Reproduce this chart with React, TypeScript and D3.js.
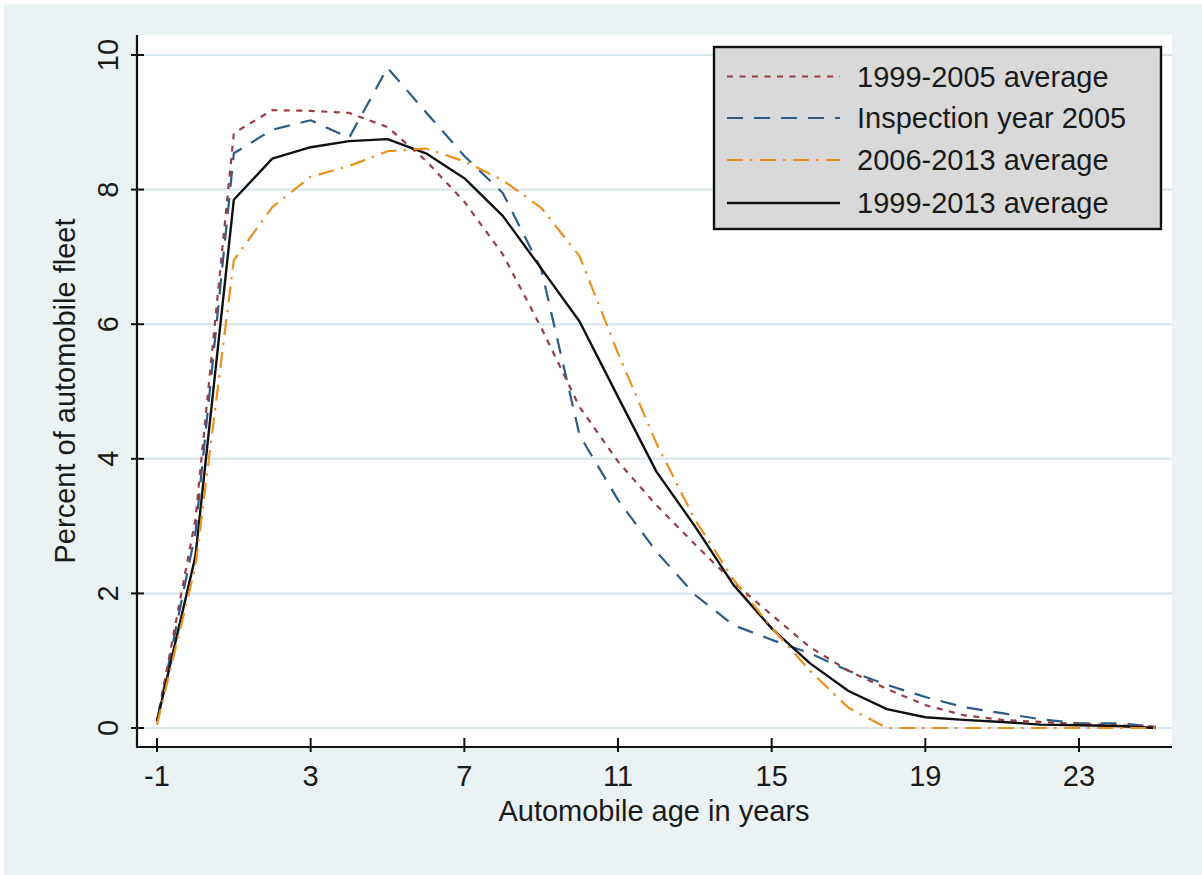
import React from 'react';
import * as d3 from 'd3';

// Automobile age (years)
const ages = [-1, 0, 1, 2, 3, 4, 5, 6, 7, 8, 9, 10, 11, 12, 13, 14, 15, 16, 17, 18, 19, 20, 21, 22, 23, 24, 25];

// Percent of automobile fleet
const avg1999to2005 = [0.1, 3.1, 8.84, 9.18, 9.17, 9.14, 8.93, 8.43, 7.82, 7.04, 5.95, 4.77, 3.96, 3.31, 2.73, 2.17, 1.68, 1.2, 0.85, 0.58, 0.34, 0.19, 0.12, 0.09, 0.06, 0.04, 0.02];
const inspection2005 = [0.1, 2.9, 8.54, 8.89, 9.03, 8.77, 9.81, 9.15, 8.5, 7.95, 6.82, 4.35, 3.39, 2.62, 1.98, 1.53, 1.31, 1.11, 0.85, 0.64, 0.46, 0.31, 0.22, 0.13, 0.07, 0.07, 0.02];
const avg2006to2013 = [0.05, 2.4, 6.95, 7.74, 8.19, 8.35, 8.57, 8.61, 8.42, 8.14, 7.73, 7.01, 5.57, 4.23, 3.1, 2.21, 1.49, 0.85, 0.3, 0, 0, 0, 0, 0, 0, 0, 0];
const avg1999to2013 = [0.1, 2.55, 7.85, 8.46, 8.63, 8.72, 8.75, 8.54, 8.17, 7.61, 6.83, 6.04, 4.92, 3.81, 3.0, 2.13, 1.48, 0.96, 0.55, 0.28, 0.16, 0.12, 0.09, 0.05, 0.04, 0.03, 0.0];

const xTickValues = [-1, 3, 7, 11, 15, 19, 23];
const yTickValues = [0, 2, 4, 6, 8, 10];

const legendLabels = ['1999-2005 average', 'Inspection year 2005', '2006-2013 average', '1999-2013 average'];

const FONT = '"Liberation Sans", Arial, Helvetica, sans-serif';

export default function App() {
  const W = 1202;
  const H = 875;
  const plot = { l: 137, r: 1172, t: 35, b: 747 };

  const x = d3.scaleLinear().domain([-1, 23]).range([157, 1079]);
  const y = d3.scaleLinear().domain([0, 10]).range([728, 55]);

  const series = [
    { key: 'red', label: legendLabels[0], values: avg1999to2005, color: '#9a3d45', dash: '6,6.5', width: 2.2 },
    { key: 'blue', label: legendLabels[1], values: inspection2005, color: '#2b5c87', dash: '16,11', width: 2.2 },
    { key: 'orange', label: legendLabels[2], values: avg2006to2013, color: '#ec9020', dash: '16,7,2.5,7.5', width: 2.2 },
    { key: 'black', label: legendLabels[3], values: avg1999to2013, color: '#111111', dash: null as string | null, width: 2.4 },
  ];

  // Draw order: blue, red, black, orange
  const drawOrder = ['blue', 'red', 'black', 'orange'];

  const lineGen = (vals: number[]) =>
    d3
      .line<number>()
      .x((_, i) => x(ages[i]))
      .y((d) => y(d))(vals) || '';

  const textColor = '#1a1a1a';

  const legend = { x: 714, y: 47, w: 447, h: 182 };
  const legendRowsY = [76.5, 118, 160, 203];
  const legendBaselines = [86.5, 127.5, 170, 213];

  return (
    <div style={{ position: 'absolute', left: 0, top: 0 }}>
      <svg width={W} height={H} style={{ display: 'block' }}>
        <rect x={0} y={0} width={W} height={H} fill="#ffffff" />
        <rect x={4} y={4} width={W - 4} height={H - 4} fill="#eaf2f3" />
        <rect x={plot.l} y={plot.t} width={plot.r - plot.l} height={plot.b - plot.t} fill="#ffffff" />

        {/* gridlines */}
        {yTickValues.map((v) => (
          <line key={'g' + v} x1={plot.l} x2={plot.r} y1={y(v)} y2={y(v)} stroke="#d6e4eb" strokeWidth={2} />
        ))}

        {/* series */}
        {drawOrder.map((k) => {
          const s = series.find((d) => d.key === k)!;
          return (
            <path
              key={s.key}
              d={lineGen(s.values)}
              fill="none"
              stroke={s.color}
              strokeWidth={s.width}
              strokeDasharray={s.dash || undefined}
              strokeLinejoin="round"
            />
          );
        })}

        {/* axes */}
        <line x1={plot.l} x2={plot.l} y1={plot.t} y2={plot.b + 1} stroke="#111" strokeWidth={2.2} />
        <line x1={plot.l - 1} x2={plot.r} y1={plot.b} y2={plot.b} stroke="#111" strokeWidth={2.2} />

        {yTickValues.map((v) => (
          <g key={'yt' + v}>
            <line x1={plot.l - 6} x2={plot.l + 7} y1={y(v)} y2={y(v)} stroke="#111" strokeWidth={2} />
            <text
              transform={`translate(118,${y(v)}) rotate(-90)`}
              textAnchor="middle"
              fontFamily={FONT}
              fontSize={29}
              fill={textColor}
            >
              {v}
            </text>
          </g>
        ))}

        {xTickValues.map((v) => (
          <g key={'xt' + v}>
            <line x1={x(v)} x2={x(v)} y1={plot.b - 9} y2={plot.b + 5} stroke="#111" strokeWidth={2} />
            <text x={x(v)} y={786} textAnchor="middle" fontFamily={FONT} fontSize={29} fill={textColor}>
              {v}
            </text>
          </g>
        ))}

        {/* axis titles */}
        <text x={654} y={821} textAnchor="middle" fontFamily={FONT} fontSize={29} fill={textColor}>
          Automobile age in years
        </text>
        <text
          transform={`translate(75,391) rotate(-90)`}
          textAnchor="middle"
          fontFamily={FONT}
          fontSize={29}
          fill={textColor}
        >
          Percent of automobile fleet
        </text>

        {/* legend */}
        <rect x={legend.x} y={legend.y} width={legend.w} height={legend.h} fill="#d9d9d9" stroke="#111" strokeWidth={2.4} />
        {series.map((s, i) => (
          <g key={'lg' + s.key}>
            <line
              x1={727}
              x2={840}
              y1={legendRowsY[i]}
              y2={legendRowsY[i]}
              stroke={s.color}
              strokeWidth={s.width}
              strokeDasharray={s.dash || undefined}
            />
            <text x={857} y={legendBaselines[i]} fontFamily={FONT} fontSize={29} fill={textColor}>
              {s.label}
            </text>
          </g>
        ))}
      </svg>
    </div>
  );
}
